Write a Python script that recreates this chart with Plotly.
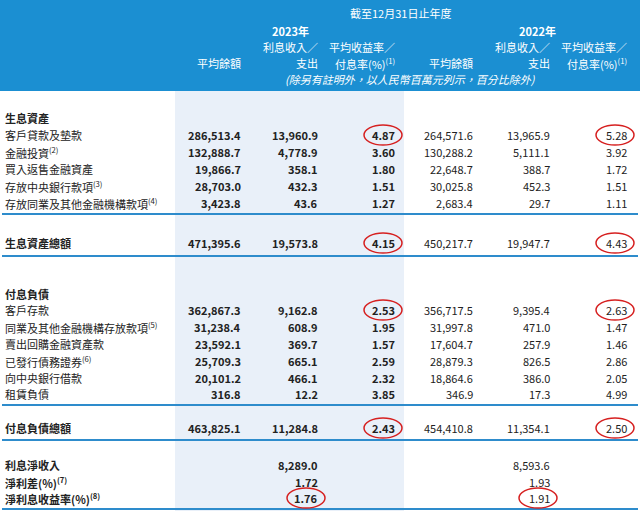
import plotly.graph_objects as go

row_labels = ["生息資產", "客戶貸款及墊款", "金融投資<sup>(2)</sup>", "買入返售金融資產", "存放中央銀行款項<sup>(3)</sup>",
              "存放同業及其他金融機構款項<sup>(4)</sup>", "生息資產總額",
              "付息負債", "客戶存款", "同業及其他金融機構存放款項<sup>(5)</sup>", "賣出回購金融資產款",
              "已發行債務證券<sup>(6)</sup>", "向中央銀行借款", "租賃負債", "付息負債總額",
              "利息淨收入", "淨利差(%)<sup>(7)</sup>", "淨利息收益率(%)<sup>(8)</sup>"]
row_y = [118, 135, 152, 169, 186, 203, 243, 294, 310, 327, 344, 361, 378, 394, 428, 465, 482, 498]
bold_label = [True, False, False, False, False, False, True, True, False, False, False, False, False, False, True, True, True, True]

avg_2023 = ["", "286,513.4", "132,888.7", "19,866.7", "28,703.0", "3,423.8", "471,395.6", "", "362,867.3", "31,238.4", "23,592.1", "25,709.3", "20,101.2", "316.8", "463,825.1", "", "", ""]
int_2023 = ["", "13,960.9", "4,778.9", "358.1", "432.3", "43.6", "19,573.8", "", "9,162.8", "608.9", "369.7", "665.1", "466.1", "12.2", "11,284.8", "8,289.0", "1.72", "1.76"]
rate_2023 = ["", "4.87", "3.60", "1.80", "1.51", "1.27", "4.15", "", "2.53", "1.95", "1.57", "2.59", "2.32", "3.85", "2.43", "", "", ""]
avg_2022 = ["", "264,571.6", "130,288.2", "22,648.7", "30,025.8", "2,683.4", "450,217.7", "", "356,717.5", "31,997.8", "17,604.7", "28,879.3", "18,864.6", "346.9", "454,410.8", "", "", ""]
int_2022 = ["", "13,965.9", "5,111.1", "388.7", "452.3", "29.7", "19,947.7", "", "9,395.4", "471.0", "257.9", "826.5", "386.0", "17.3", "11,354.1", "8,593.6", "1.93", "1.91"]
rate_2022 = ["", "5.28", "3.92", "1.72", "1.51", "1.11", "4.43", "", "2.63", "1.47", "1.46", "2.86", "2.05", "4.99", "2.50", "", "", ""]

col_right = [243, 320, 397, 475, 552, 629]
circled = [(1, 2), (1, 5), (6, 2), (6, 5), (8, 2), (8, 5), (14, 2), (14, 5), (17, 1), (17, 4)]
rule_y = [214, 256, 405, 440, 509]

FONT = "Liberation Sans Narrow, Noto Sans CJK TC, sans-serif"
fig = go.Figure()
shapes = [
    dict(type="rect", x0=0, x1=640, y0=0, y1=91, fillcolor="#1b8fd2", line_width=0, layer="below"),
    dict(type="rect", x0=175, x1=404, y0=91, y1=511, fillcolor="#e9f0f9", line_width=0, layer="below"),
]
for y in rule_y:
    shapes.append(dict(type="line", x0=2, x1=638, y0=y, y1=y, line=dict(color="#2e8ccc", width=2)))
ann = []
def t(x, y, s, anchor="right", size=11, color="#222", bold=False, italic=False):
    if bold:
        s = "<b>" + s + "</b>"
    if italic:
        s = "<i>" + s + "</i>"
    ann.append(dict(x=x, y=y, text=s, xanchor=anchor, yanchor="middle", showarrow=False,
                    font=dict(family=FONT, size=size, color=color)))

W = "white"
t(400, 13, "截至12月31日止年度", "center", color=W)
t(290, 31, "2023年", "center", color=W, bold=True)
t(537, 31, "2022年", "center", color=W, bold=True)
for cx, lab in [(320, "利息收入／"), (397, "平均收益率／"), (552, "利息收入／"), (629, "平均收益率／")]:
    t(cx, 47, lab, color=W)
t(243, 63, "平均餘額", color=W)
t(320, 63, "支出", color=W)
t(397, 63, "付息率(%)<sup>(1)</sup>", color=W)
t(475, 63, "平均餘額", color=W)
t(552, 63, "支出", color=W)
t(629, 63, "付息率(%)<sup>(1)</sup>", color=W)
t(410, 79, "(除另有註明外，以人民幣百萬元列示，百分比除外)", "center", color=W, italic=True)

cols = [avg_2023, int_2023, rate_2023, avg_2022, int_2022, rate_2022]
for i, lab in enumerate(row_labels):
    y = row_y[i]
    t(3, y, lab, "left", bold=bold_label[i])
    for c, arr in enumerate(cols):
        if arr[i]:
            t(col_right[c], y, arr[i], bold=(c < 3))
for (r, c) in circled:
    x1 = col_right[c] + 5
    shapes.append(dict(type="circle", x0=x1 - 38, x1=x1, y0=row_y[r] - 10, y1=row_y[r] + 10,
                       line=dict(color="#d62020", width=1.5)))

fig.update_layout(width=640, height=511, margin=dict(l=0, r=0, t=0, b=0),
                  plot_bgcolor="white", paper_bgcolor="white", shapes=shapes, annotations=ann,
                  xaxis=dict(range=[0, 640], visible=False, fixedrange=True),
                  yaxis=dict(range=[511, 0], visible=False, fixedrange=True), showlegend=False)
fig.write_html("out.html", config={"displayModeBar": False})
with open("out.html", encoding="utf-8") as f:
    html = f.read()
html = html.replace("<head>", "<head><style>html,body{margin:0;padding:0;overflow:hidden;}</style>", 1)
with open("out.html", "w", encoding="utf-8") as f:
    f.write(html)
